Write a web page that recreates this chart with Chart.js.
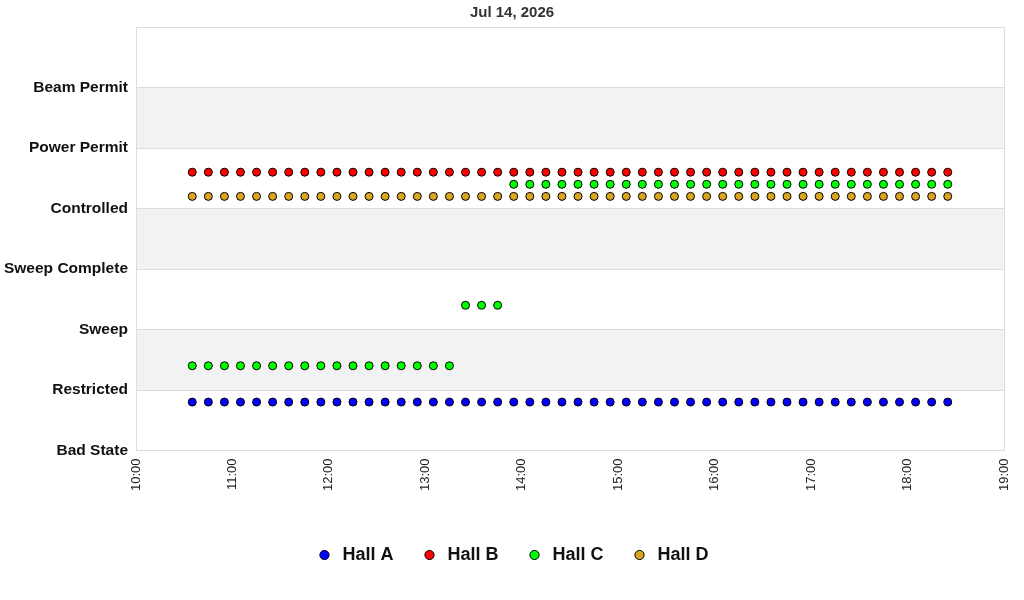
<!DOCTYPE html>
<html>
<head>
<meta charset="utf-8">
<script src="https://cdn.jsdelivr.net/npm/chart.js@4/dist/chart.umd.min.js"></script>
<style>
  html, body { margin: 0; padding: 0; background: #fff; }
  #wrap { width: 1024px; height: 600px; }
</style>
</head>
<body>
<div id="wrap"><canvas id="result-chart" width="1024" height="600"></canvas></div>
<script>
const title = "Jul 14, 2026";
const state_labels = ["Bad State", "Restricted", "Sweep", "Sweep Complete", "Controlled", "Power Permit", "Beam Permit", ""];
const x_ticks = ["10:00", "11:00", "12:00", "13:00", "14:00", "15:00", "16:00", "17:00", "18:00", "19:00"];

const times = [
  "10:35", "10:45", "10:55", "11:05", "11:15", "11:25", "11:35", "11:45",
  "11:55", "12:05", "12:15", "12:25", "12:35", "12:45", "12:55", "13:05",
  "13:15", "13:25", "13:35", "13:45", "13:55", "14:05", "14:15", "14:25",
  "14:35", "14:45", "14:55", "15:05", "15:15", "15:25", "15:35", "15:45",
  "15:55", "16:05", "16:15", "16:25", "16:35", "16:45", "16:55", "17:05",
  "17:15", "17:25", "17:35", "17:45", "17:55", "18:05", "18:15", "18:25",
];

const hall_a = [
  0.8, 0.8, 0.8, 0.8, 0.8, 0.8, 0.8, 0.8, 0.8, 0.8, 0.8, 0.8, 0.8, 0.8, 0.8, 0.8,
  0.8, 0.8, 0.8, 0.8, 0.8, 0.8, 0.8, 0.8, 0.8, 0.8, 0.8, 0.8, 0.8, 0.8, 0.8, 0.8,
  0.8, 0.8, 0.8, 0.8, 0.8, 0.8, 0.8, 0.8, 0.8, 0.8, 0.8, 0.8, 0.8, 0.8, 0.8, 0.8,
];
const hall_b = [
  4.6, 4.6, 4.6, 4.6, 4.6, 4.6, 4.6, 4.6, 4.6, 4.6, 4.6, 4.6, 4.6, 4.6, 4.6, 4.6,
  4.6, 4.6, 4.6, 4.6, 4.6, 4.6, 4.6, 4.6, 4.6, 4.6, 4.6, 4.6, 4.6, 4.6, 4.6, 4.6,
  4.6, 4.6, 4.6, 4.6, 4.6, 4.6, 4.6, 4.6, 4.6, 4.6, 4.6, 4.6, 4.6, 4.6, 4.6, 4.6,
];
const hall_c = [
  1.4, 1.4, 1.4, 1.4, 1.4, 1.4, 1.4, 1.4, 1.4, 1.4, 1.4, 1.4, 1.4, 1.4, 1.4, 1.4,
  1.4, 2.4, 2.4, 2.4, 4.4, 4.4, 4.4, 4.4, 4.4, 4.4, 4.4, 4.4, 4.4, 4.4, 4.4, 4.4,
  4.4, 4.4, 4.4, 4.4, 4.4, 4.4, 4.4, 4.4, 4.4, 4.4, 4.4, 4.4, 4.4, 4.4, 4.4, 4.4,
];
const hall_d = [
  4.2, 4.2, 4.2, 4.2, 4.2, 4.2, 4.2, 4.2, 4.2, 4.2, 4.2, 4.2, 4.2, 4.2, 4.2, 4.2,
  4.2, 4.2, 4.2, 4.2, 4.2, 4.2, 4.2, 4.2, 4.2, 4.2, 4.2, 4.2, 4.2, 4.2, 4.2, 4.2,
  4.2, 4.2, 4.2, 4.2, 4.2, 4.2, 4.2, 4.2, 4.2, 4.2, 4.2, 4.2, 4.2, 4.2, 4.2, 4.2,
];

const hall_names = ["Hall A", "Hall B", "Hall C", "Hall D"];
const hall_colors = ["#0000ff", "#ff0000", "#00ff00", "#daa520"];

// minutes since 10:00
const to_minutes = (t) => {
  const [h, m] = t.split(":").map(Number);
  return (h - 10) * 60 + m;
};
const to_label = (v) => {
  const h = 10 + Math.floor(v / 60);
  const m = v % 60;
  return `${h}:${String(m).padStart(2, "0")}`;
};

const get_chart_data = () => {
  return [hall_a, hall_b, hall_c, hall_d].map((values, i) => ({
    label: hall_names[i],
    data: values.map((v, j) => ({ x: to_minutes(times[j]), y: v })),
    backgroundColor: hall_colors[i],
    borderColor: "#000",
    borderWidth: 1,
    pointRadius: 4,
    pointStyle: "circle",
    showLine: false,
  }));
};

const bands_plugin = {
  id: "bands",
  beforeDatasetsDraw(chart) {
    const { ctx, chartArea } = chart;
    const y = chart.scales.y;
    ctx.save();
    ctx.fillStyle = "#f2f2f2";
    [[1, 2], [3, 4], [5, 6]].forEach(([a, b]) => {
      const top = y.getPixelForValue(b);
      const bot = y.getPixelForValue(a);
      ctx.fillRect(chartArea.left, top, chartArea.right - chartArea.left, bot - top);
    });
    ctx.strokeStyle = "#dddddd";
    ctx.lineWidth = 1;
    for (let v = 0; v <= 7; v++) {
      const py = Math.round(y.getPixelForValue(v)) + 0.5;
      ctx.beginPath();
      ctx.moveTo(chartArea.left, py);
      ctx.lineTo(chartArea.right, py);
      ctx.stroke();
    }
    ctx.strokeRect(Math.round(chartArea.left) + 0.5, Math.round(chartArea.top) + 0.5,
      Math.round(chartArea.right - chartArea.left), Math.round(chartArea.bottom - chartArea.top));
    ctx.restore();
  },
};

const get_chart_config = (datasets) => {
  return {
    type: "scatter",
    data: { datasets: datasets },
    plugins: [bands_plugin],
    options: {
      responsive: false,
      animation: false,
      layout: { padding: { top: 0, right: 0, bottom: 26, left: 0 } },
      plugins: {
        title: {
          display: true,
          text: title,
          color: "#333",
          font: { family: "Liberation Sans, Arial", size: 15, weight: "bold" },
          padding: { top: 4, bottom: 5 },
        },
        legend: {
          position: "bottom",
          labels: {
            usePointStyle: true,
            pointStyle: "circle",
            boxWidth: 18,
            boxHeight: 6.5,
            padding: 27,
            color: "#111",
            font: { family: "Liberation Sans, Arial", size: 18, weight: "bold" },
          },
        },
        tooltip: { enabled: false },
      },
      scales: {
        x: {
          type: "linear",
          min: 0,
          max: 540,
          grid: { display: false },
          border: { display: false },
          afterBuildTicks: (axis) => {
            axis.ticks = x_ticks.map((t) => ({ value: to_minutes(t) }));
          },
          afterFit: (axis) => {
            axis.height += 28;
          },
          ticks: {
            minRotation: 90,
            maxRotation: 90,
            padding: 0,
            color: "#222",
            font: { family: "Liberation Sans, Arial", size: 13 },
            callback: (v) => to_label(v),
          },
        },
        y: {
          min: 0,
          max: 7,
          grid: { display: false },
          border: { display: false },
          afterFit: (axis) => {
            axis.width = 136;
          },
          ticks: {
            stepSize: 1,
            padding: 0,
            color: "#111",
            font: { family: "Liberation Sans, Arial", size: 15.5, weight: "bold" },
            callback: (v) => state_labels[v],
          },
        },
        // empty right-hand axis that only keeps a margin beside the plot
        yRight: {
          position: "right",
          display: true,
          grid: { display: false },
          border: { display: false },
          ticks: { display: false },
          afterFit: (axis) => {
            axis.width = 20;
          },
        },
      },
    },
  };
};

const resultChart = new Chart(
  document.getElementById("result-chart"),
  get_chart_config(get_chart_data())
);
</script>
</body>
</html>
